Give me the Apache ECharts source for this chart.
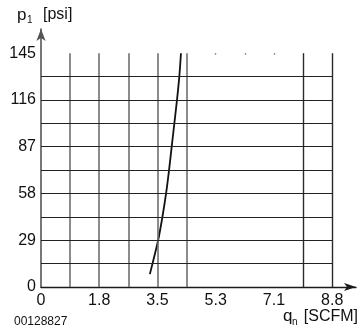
<!DOCTYPE html>
<html><head><meta charset="utf-8">
<script src="https://cdn.jsdelivr.net/npm/echarts@6/dist/echarts.min.js"></script>
<style>html,body{margin:0;padding:0;background:#fff}#c{width:360px;height:333px}</style>
</head><body><div id="c"></div>
<script>
// ---- data ----
const curveX = [3.29, 3.54, 3.67, 3.78, 3.87, 3.95, 4.03, 4.11, 4.18, 4.23];
const curveY = [8, 29, 43.5, 58, 72.5, 87, 101.5, 116, 130.5, 145];
const xTickValues = [0, 1.76, 3.52, 5.28, 7.04, 8.8];
const xTickLabels = ['0', '1.8', '3.5', '5.3', '7.1', '8.8'];
const yTickValues = [0, 29, 58, 87, 116, 145];
const yTickLabels = ['0', '29', '58', '87', '116', '145'];
const xGridGray = [0.88, 1.76, 2.64, 3.52, 4.4];
const xGridDark = [7.92, 8.8];
const xGridStub = [5.28, 6.16, 7.04];
const yGrid = [14.5, 29, 43.5, 58, 72.5, 87, 101.5, 116, 130.5];
const xMax = 8.8, yMax = 145;

const FONT = "'Liberation Sans', Arial, Helvetica, sans-serif";
function fmt(values, labels) {
  return function (v) {
    for (let i = 0; i < values.length; i++) if (Math.abs(values[i] - v) < 1e-6) return labels[i];
    return '';
  };
}
const gridLines = [];
const ls = (color, width) => ({color: color, width: width, type: 'solid'});
xGridGray.forEach(x => gridLines.push([{coord: [x, 0], lineStyle: ls('#6f6f6f', 1.6)}, {coord: [x, yMax]}]));
xGridDark.forEach(x => gridLines.push([{coord: [x, 0], lineStyle: ls('#2a2a2a', 1.4)}, {coord: [x, yMax]}]));
xGridStub.forEach(x => gridLines.push([{coord: [x, yMax - 0.9], lineStyle: ls('#777', 1.4)}, {coord: [x, yMax]}]));
yGrid.forEach(y => gridLines.push([{coord: [0, y], lineStyle: ls('#222', 1.2)}, {coord: [xMax, y]}]));

const chart = echarts.init(document.getElementById('c'), null, {renderer: 'canvas'});
chart.setOption({
  animation: false,
  grid: {left: 41, right: 4, top: 29, bottom: 46, containLabel: false},
  xAxis: {
    type: 'value', min: 0, max: 9.52, interval: 0.88,
    axisLine: {show: true, symbol: ['none', 'arrow'], symbolSize: [6, 12], lineStyle: {color: '#1a1a1a', width: 1.4}},
    axisTick: {show: false}, splitLine: {show: false},
    axisLabel: {formatter: fmt(xTickValues, xTickLabels), color: '#111', fontSize: 16, fontFamily: FONT, margin: 6, showMaxLabel: false}
  },
  yAxis: {
    type: 'value', min: 0, max: 160, interval: 14.5,
    axisLine: {show: true, symbol: ['none', 'arrow'], symbolSize: [7, 12], lineStyle: {color: '#555', width: 1.6}},
    axisTick: {show: false}, splitLine: {show: false},
    axisLabel: {formatter: fmt(yTickValues, yTickLabels), color: '#111', fontSize: 16, fontFamily: FONT, margin: 5, showMaxLabel: false}
  },
  graphic: [
    {type: 'text', left: 17, top: 7, style: {text: 'p', fontSize: 17, fontFamily: FONT, fill: '#111'}},
    {type: 'text', left: 27, top: 15, style: {text: '1', fontSize: 10, fontFamily: FONT, fill: '#111'}},
    {type: 'text', left: 43, top: 7, style: {text: '[psi]', fontSize: 16, fontFamily: FONT, fill: '#111'}},
    {type: 'text', left: 283, top: 308, style: {text: 'q', fontSize: 17, fontFamily: FONT, fill: '#111'}},
    {type: 'text', left: 292, top: 317, style: {text: 'n', fontSize: 10, fontFamily: FONT, fill: '#111'}},
    {type: 'text', right: 2, top: 309, style: {text: '[SCFM]', fontSize: 16, fontFamily: FONT, fill: '#111'}},
    {type: 'text', left: 14, top: 316, style: {text: '00128827', fontSize: 12, fontFamily: FONT, fill: '#111'}}
  ],
  series: [{
    type: 'line', clip: false, smooth: 0.3, symbol: 'none',
    data: curveX.map((x, i) => [x, curveY[i]]),
    lineStyle: {color: '#111', width: 1.8},
    markLine: {silent: true, symbol: 'none', label: {show: false}, animation: false, data: gridLines},
    z: 3
  }]
});
</script></body></html>
